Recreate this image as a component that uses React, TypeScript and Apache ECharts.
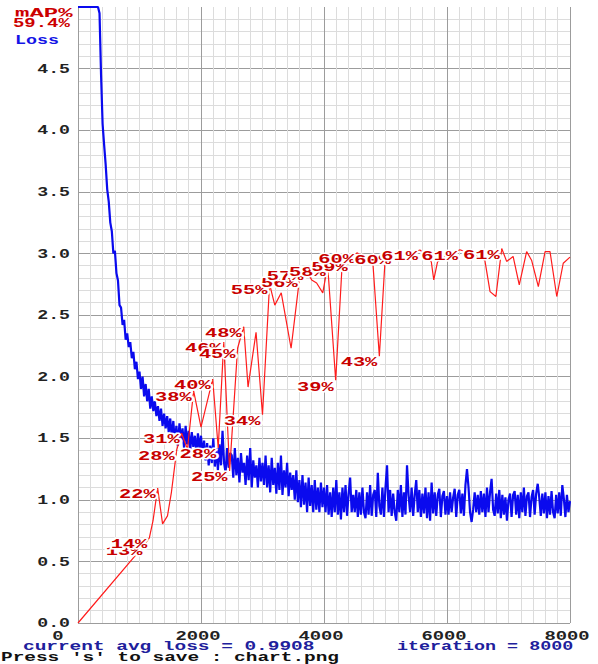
import React, { useEffect, useRef } from "react";
import * as echarts from "echarts";

// ---- data ----
const LOSS_STEP = 25; // iterations between loss samples
const lossValues = [
  5.0, 5.0, 5.0, 5.0, 5.0, 5.0, 5.0, 5.0, 5.0, 5.0, 5.0, 5.0, 5.0, 5.0, 4.95, 4.45, 4.05, 3.88, 3.72, 3.52,
  3.42, 3.25, 3.18, 3.0, 3.02, 2.84, 2.78, 2.58, 2.56, 2.42, 2.46, 2.3, 2.35, 2.24, 2.28, 2.15, 2.2, 2.06, 2.12, 1.98,
  2.04, 1.9, 2.0, 1.84, 1.94, 1.8, 1.9, 1.74, 1.84, 1.72, 1.8, 1.68, 1.76, 1.64, 1.74, 1.6, 1.7, 1.58, 1.68, 1.55,
  1.66, 1.5, 1.64, 1.46, 1.6, 1.44, 1.62, 1.48, 1.58, 1.42, 1.6, 1.45, 1.56, 1.4, 1.55, 1.43, 1.52, 1.38, 1.54, 1.41,
  1.52, 1.36, 1.48, 1.32, 1.46, 1.28, 1.44, 1.3, 1.5, 1.27, 1.42, 1.24, 1.45, 1.28, 1.56, 1.3, 1.22, 1.42, 1.26, 1.38,
  1.36, 1.18, 1.42, 1.2, 1.34, 1.14, 1.38, 1.22, 1.3, 1.12, 1.36, 1.16, 1.42, 1.1, 1.32, 1.18, 1.28, 1.1, 1.34, 1.15,
  1.3, 1.12, 1.36, 1.1, 1.28, 1.06, 1.34, 1.12, 1.26, 1.05, 1.3, 1.08, 1.36, 1.04, 1.24, 1.1, 1.3, 1.03, 1.22, 1.08,
  1.2, 1.0, 1.24, 0.98, 1.16, 0.94, 1.2, 0.96, 1.14, 0.9, 1.18, 0.95, 1.12, 0.9, 1.16, 0.92, 1.1, 0.9, 1.14, 0.94,
  1.1, 0.9, 1.12, 0.88, 1.06, 0.86, 1.1, 0.9, 1.16, 0.88, 1.06, 0.84, 1.1, 0.9, 1.12, 0.87, 1.05, 1.18, 0.9, 1.04,
  0.9, 1.08, 0.86, 1.06, 0.88, 1.1, 0.9, 0.85, 1.06, 0.88, 1.12, 0.87, 1.04, 1.08, 0.86, 1.22, 0.95, 0.88, 1.1, 0.86,
  1.1, 1.28, 0.9, 1.08, 0.87, 1.05, 0.9, 0.83, 1.08, 0.9, 1.12, 0.86, 1.06, 0.88, 1.28, 1.04, 0.9, 1.1, 0.87, 1.04,
  1.16, 0.9, 1.08, 0.86, 1.05, 0.89, 1.1, 0.85, 1.06, 0.83, 1.14, 0.89, 1.06, 0.87, 1.04, 1.09, 0.86, 1.03, 1.07, 0.88,
  1.03, 0.88, 1.06, 0.9, 1.02, 1.09, 0.86, 1.04, 1.08, 0.89, 1.05, 0.87, 1.12, 1.25, 1.1, 0.9, 0.82, 0.92, 1.06, 0.9,
  1.04, 0.88, 1.07, 0.9, 1.05, 0.86, 1.1, 0.9, 1.06, 1.17, 0.92, 0.87, 1.05, 0.89, 1.08, 0.85, 1.04, 0.88, 1.02, 0.83,
  1.0, 1.05, 0.86, 1.04, 1.07, 0.88, 1.04, 0.85, 1.06, 0.9, 1.1, 0.87, 1.03, 1.06, 0.86, 1.02, 1.08, 0.88, 1.05, 1.13,
  1.02, 0.87, 1.05, 0.89, 1.06, 0.85, 1.03, 0.88, 1.07, 0.9, 0.85, 1.04, 0.89, 1.06, 0.87, 1.12, 1.01, 0.86, 1.04, 0.9,
  0.99,
];

const mapIters = [
  0, 1080, 1160, 1220, 1295, 1375, 1455, 1520, 1605, 1685, 1780, 1880, 2000, 2190, 2280, 2370, 2465, 2595, 2695,
  2765, 2895, 3000, 3115, 3200, 3305, 3465, 3605, 3700, 3800, 3880, 3980, 4060, 4190, 4290, 4420, 4535, 4680, 4795,
  4900, 4990, 5120, 5280, 5430, 5560, 5675, 5745, 5785, 5845, 5965, 6080, 6210, 6340, 6470, 6615, 6700, 6795, 6890,
  6970, 7075, 7175, 7295, 7375, 7485, 7595, 7675, 7785, 7890, 8000,
];
const mapValues = [
  0, 12.7, 13.8, 16.6, 21.9, 16.1, 17.4, 21.3, 28.1, 30.8, 28.2, 37.7, 31.8, 39.6, 28.4, 45.6, 24.7, 44.6, 48.1,
  38.3, 47.2, 33.8, 55.0, 51.6, 53.6, 44.6, 56.2, 57.4, 55.7, 55.2, 53.6, 58.0, 39.4, 57.3, 58.8, 60.1, 59.3, 58.4,
  43.3, 58.4, 60.0, 59.6, 60.1, 60.55, 59.6, 58.6, 55.7, 58.6, 59.6, 59.9, 60.6, 60.1, 59.6, 58.9, 53.8, 53.0, 60.8,
  58.7, 59.5, 54.9, 60.3, 58.9, 54.6, 60.3, 60.3, 53.0, 58.4, 59.4,
];
const mapLabelIters = [
  1080, 1160, 1295, 1605, 1685, 1880, 2190, 2280, 2370, 2465, 2595, 2695, 3000, 3115, 3605, 3700, 4060, 4190, 4420,
  4535, 4900, 5120, 5560, 6210, 6890,
];

const yTickValues = [0, 0.5, 1, 1.5, 2, 2.5, 3, 3.5, 4, 4.5];
const yTickLabels = ["0.0", "0.5", "1.0", "1.5", "2.0", "2.5", "3.0", "3.5", "4.0", "4.5"];
const xTickValues = [0, 2000, 4000, 6000, 8000];
const xTickLabels = ["0", "2000", "4000", "6000", "8000"];

const legendMapTitle = "mAP%";
const legendMapValue = "59.4%";
const legendLoss = "Loss";
const statusLoss = "current avg loss = 0.9908";
const statusIter = "iteration = 8000";
const saveHint = "Press 's' to save : chart.png";

const MONO = "'Liberation Mono', 'DejaVu Sans Mono', monospace";

export default function App() {
  const ref = useRef<HTMLDivElement>(null);

  useEffect(() => {
    if (!ref.current) return;
    const chart = echarts.init(ref.current, undefined, { renderer: "svg" });

    const lossData = lossValues.map((v, i) => [i * LOSS_STEP, v]);
    const mapData = mapIters.map((it, i) => [it, mapValues[i]]);
    const labelData = mapLabelIters.map((it) => [it, mapValues[mapIters.indexOf(it)]]);

    const txt = (
      text: string,
      x: number,
      y: number,
      scaleX: number,
      fill: string,
      size: number,
      halo = false
    ) => ({
      type: "text",
      x,
      y,
      scaleX,
      z: 100,
      style: {
        text,
        x: 0,
        y: 0,
        fill,
        stroke: halo ? "#ffffff" : undefined,
        lineWidth: halo ? 3 : 0,
        font: `bold ${size}px ${MONO}`,
        align: "left",
        verticalAlign: "middle",
        textAlign: "left",
        textVerticalAlign: "middle",
      },
    });

    chart.setOption({
      animation: false,
      backgroundColor: "#ffffff",
      grid: { left: 78, top: 7, width: 492, height: 616, containLabel: false },
      xAxis: {
        type: "value",
        min: 0,
        max: 8000,
        interval: 2000,
        axisLine: { show: false },
        axisTick: { show: false },
        axisLabel: { show: false },
        splitLine: { show: true, lineStyle: { color: "#9c9c9c", width: 1 } },
        minorTick: { show: false, splitNumber: 10 },
        minorSplitLine: { show: true, lineStyle: { color: "#dcdcdc", width: 1 } },
      },
      yAxis: [
        {
          type: "value",
          min: 0,
          max: 5,
          interval: 0.5,
          axisLine: { show: false },
          axisTick: { show: false },
          axisLabel: { show: false },
          splitLine: { show: true, showMaxLine: false, lineStyle: { color: "#9c9c9c", width: 1 } },
          minorTick: { show: false, splitNumber: 5 },
          minorSplitLine: { show: true, lineStyle: { color: "#dcdcdc", width: 1 } },
        },
        { type: "value", min: 0, max: 100, show: false, splitLine: { show: false } },
      ],
      series: [
        {
          name: "Loss",
          type: "line",
          data: lossData,
          yAxisIndex: 0,
          symbol: "none",
          clip: false,
          z: 2,
          lineStyle: { color: "#0a0aee", width: 2.2 },
        },
        {
          name: "mAP",
          type: "line",
          data: mapData,
          yAxisIndex: 1,
          symbol: "none",
          z: 3,
          lineStyle: { color: "#ff1c1c", width: 1.2 },
        },
        {
          name: "mAP labels",
          type: "custom",
          yAxisIndex: 1,
          data: labelData,
          clip: false,
          z: 4,
          encode: { x: 0, y: 1 },
          renderItem: (params: any, api: any) => {
            const v = api.value(1);
            const p = api.coord([api.value(0), v]);
            return {
              type: "text",
              x: p[0] - 2,
              y: p[1] + 7,
              scaleX: 1.7,
              style: {
                text: Math.round(v) + "%",
                x: 0,
                y: 0,
                fill: "#c80000",
                stroke: "#ffffff",
                lineWidth: 3,
                font: `bold 12px ${MONO}`,
                align: "right",
                verticalAlign: "middle",
                textAlign: "right",
                textVerticalAlign: "middle",
              },
            };
          },
        },
        {
          name: "y ticks",
          type: "custom",
          yAxisIndex: 0,
          data: yTickValues.map((v) => [0, v]),
          clip: false,
          z: 5,
          encode: { x: 0, y: 1 },
          renderItem: (params: any, api: any) => {
            const p = api.coord([0, api.value(1)]);
            return {
              type: "text",
              x: p[0] - 8,
              y: p[1] + 1,
              scaleX: 1.4,
              style: {
                text: yTickLabels[params.dataIndex],
                x: 0,
                y: 0,
                fill: "#222222",
                font: `bold 13px ${MONO}`,
                align: "right",
                verticalAlign: "middle",
                textAlign: "right",
                textVerticalAlign: "middle",
              },
            };
          },
        },
        {
          name: "x ticks",
          type: "custom",
          yAxisIndex: 0,
          data: xTickValues.map((v) => [v, 0]),
          clip: false,
          z: 5,
          encode: { x: 0, y: 1 },
          renderItem: (params: any, api: any) => {
            const p = api.coord([api.value(0), 0]);
            const dx = params.dataIndex === 0 ? -20 : -3;
            return {
              type: "text",
              x: p[0] + dx,
              y: p[1] + 14,
              scaleX: 1.45,
              style: {
                text: xTickLabels[params.dataIndex],
                x: 0,
                y: 0,
                fill: "#222222",
                font: `bold 13px ${MONO}`,
                align: "center",
                verticalAlign: "middle",
                textAlign: "center",
                textVerticalAlign: "middle",
              },
            };
          },
        },
      ],
      graphic: [
        txt(legendMapTitle, 15, 14, 2.0, "#cc0000", 12, true),
        txt(legendMapValue, 13, 24, 1.58, "#cc0000", 12, true),
        txt(legendLoss, 15, 41, 1.53, "#1414e6", 12),
        txt(statusLoss, 23, 647, 1.62, "#20209c", 12),
        txt(statusIter, 397, 647, 1.53, "#20209c", 12),
        txt(saveHint, 1, 658, 1.62, "#111111", 12),
      ],
    });

    return () => chart.dispose();
  }, []);

  return (
    <div
      ref={ref}
      style={{ position: "fixed", left: 0, top: 0, width: 598, height: 664, background: "#fff" }}
    />
  );
}
